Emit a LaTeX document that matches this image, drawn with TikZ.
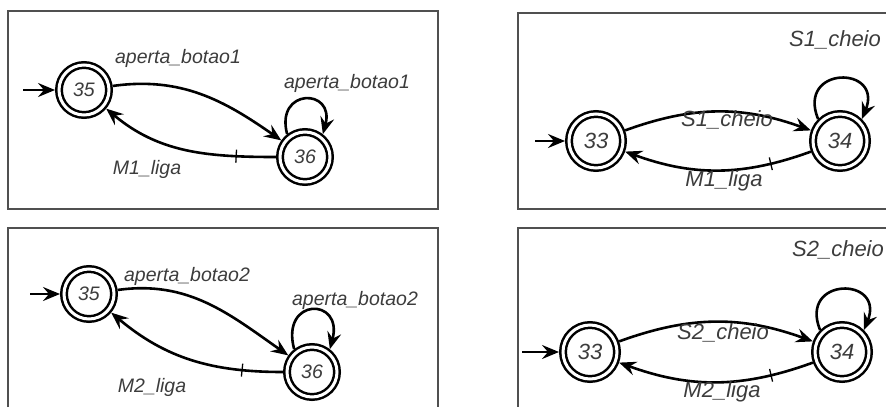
\documentclass[tikz,border=0pt]{standalone}
\usepackage{fontspec}
\setsansfont{Liberation Sans}
\usetikzlibrary{arrows.meta, decorations.markings}

\definecolor{txtgray}{HTML}{3C3C3C}
\definecolor{framegray}{HTML}{505050}

\tikzset{
  state/.style={circle, draw, double, double distance=3pt, line width=2.5pt,
    minimum size=50pt, inner sep=0pt, outer sep=4pt, text=txtgray},
  bigstate/.style={state, minimum size=54pt},
  trans/.style={line width=2.6pt, -{Stealth[length=17pt, width=14pt, inset=6pt]}},
  ticked/.style={postaction={decorate, decoration={markings,
    mark=at position #1 with {\draw[-, line width=1.3pt] (0pt,-6.5pt) -- (0pt,6.5pt);}}}},
  lbl/.style={text=txtgray, inner sep=0pt},
  frame/.style={draw=framegray, line width=1.2pt},
}

\begin{document}
\begin{tikzpicture}[x=1pt, y=1pt, font=\sffamily\itshape\fontsize{19.5}{22}\selectfont]
  \useasboundingbox (0,0) rectangle (886,-407);

  % panel frames
  \draw[frame] (8,-11) rectangle (438,-209);
  \draw[frame] (8,-407) -- (8,-228) -- (438,-228) -- (438,-407);
  \draw[frame] (886,-13) -- (518,-13) -- (518,-209) -- (886,-209);
  \draw[frame] (886,-228) -- (518,-228) -- (518,-407);

  % botao 1
  \node[state] (b1q35) at (84,-90) {35};
  \node[state] (b1q36) at (305,-157) {36};
  \coordinate (b1in) at (23,-90);
  \draw[trans] (b1in) -- (b1q35);
  \draw[trans] (b1q35) to[out=8, in=145] (b1q36);
  \draw[trans, ticked=0.22] (b1q36) to[out=180, in=-40] (b1q35);
  \draw[trans] (b1q36.128) .. controls +(105:48) and +(75:48) .. (b1q36.52);
  \node[lbl] (b1aper) at (178,-58) {aperta\_botao1};
  \node[lbl] (b1loop) at (347,-83) {aperta\_botao1};
  \node[lbl] (b1liga) at (147,-169) {M1\_liga};

  % botao 2
  \node[state] (b2q35) at (89,-294) {35};
  \node[state] (b2q36) at (312,-372) {36};
  \coordinate (b2in) at (30,-294);
  \draw[trans] (b2in) -- (b2q35);
  \draw[trans] (b2q35) to[out=8, in=145] (b2q36);
  \draw[trans, ticked=0.22] (b2q36) to[out=180, in=-40] (b2q35);
  \draw[trans] (b2q36.128) .. controls +(105:54) and +(75:54) .. (b2q36.52);
  \node[lbl] (b2aper) at (187,-276) {aperta\_botao2};
  \node[lbl] (b2loop) at (355,-300) {aperta\_botao2};
  \node[lbl] (b2liga) at (152,-387) {M2\_liga};

  \begin{scope}[font=\sffamily\itshape\fontsize{22}{25}\selectfont]
    % sensor 1
    \node[bigstate] (s1q33) at (596,-141) {33};
    \node[bigstate] (s1q34) at (840,-141) {34};
    \coordinate (s1in) at (535,-141);
    \draw[trans] (s1in) -- (s1q33);
    \draw[trans] (s1q33) to[bend left=20] (s1q34);
    \draw[trans, ticked=0.22] (s1q34) to[bend left=20] (s1q33);
    \draw[trans] (s1q34.135) .. controls +(112:58) and +(68:58) .. (s1q34.45);
    \node[lbl] (s1loop) at (835,-40) {S1\_cheio};
    \node[lbl] (s1chei) at (727,-120) {S1\_cheio};
    \node[lbl] (s1liga) at (724,-181) {M1\_liga};

    % sensor 2
    \node[bigstate] (s2q33) at (590,-352) {33};
    \node[bigstate] (s2q34) at (842,-352) {34};
    \coordinate (s2in) at (522,-352);
    \draw[trans] (s2in) -- (s2q33);
    \draw[trans] (s2q33) to[bend left=20] (s2q34);
    \draw[trans, ticked=0.22] (s2q34) to[bend left=20] (s2q33);
    \draw[trans] (s2q34.135) .. controls +(112:58) and +(68:58) .. (s2q34.45);
    \node[lbl] (s2loop) at (838,-250) {S2\_cheio};
    \node[lbl] (s2chei) at (723,-333) {S2\_cheio};
    \node[lbl] (s2liga) at (722,-392) {M2\_liga};
  \end{scope}
\end{tikzpicture}
\end{document}
